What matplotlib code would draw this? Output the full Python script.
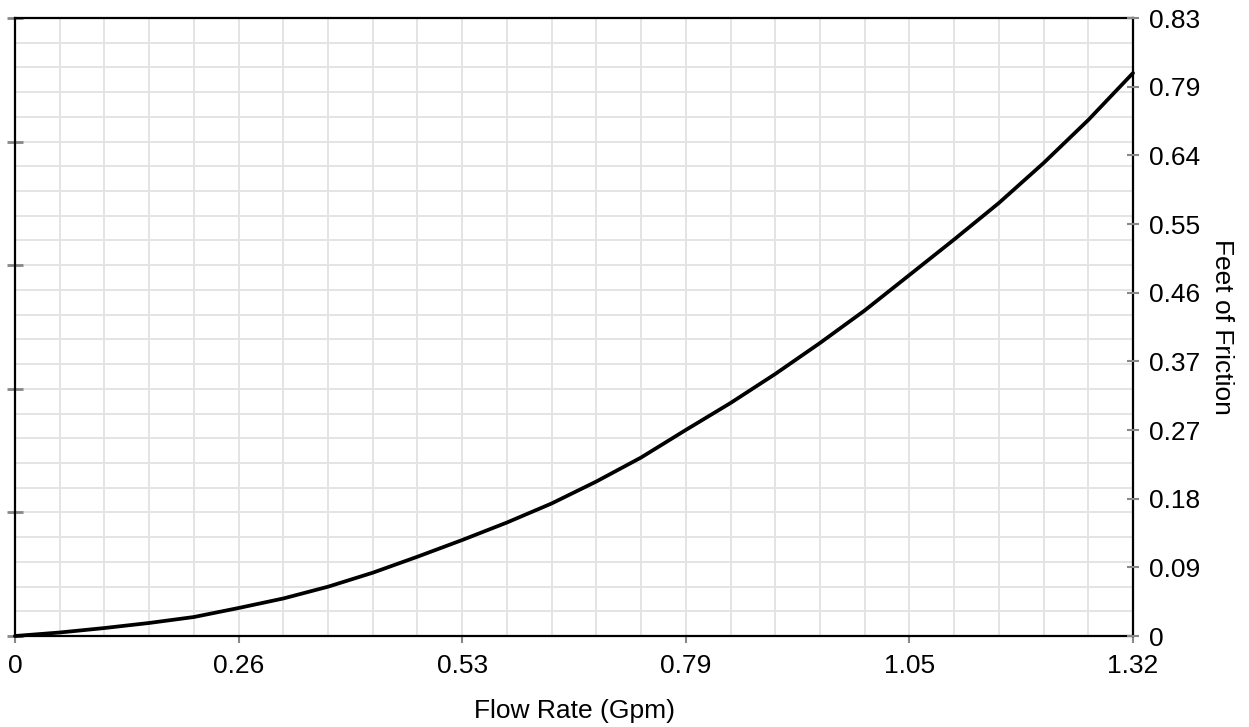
import numpy as np
import matplotlib
matplotlib.use("Agg")
import matplotlib.pyplot as plt

plt.rcParams['font.family'] = ['Liberation Sans', 'DejaVu Sans']

# Data
flow_rate = [0.0, 0.0528, 0.1056, 0.1584, 0.2112, 0.264, 0.3168, 0.3696, 0.4224,
             0.4752, 0.528, 0.5808, 0.6336, 0.6864, 0.7392, 0.792, 0.8448, 0.8976,
             0.9504, 1.0032, 1.056, 1.1088, 1.1616, 1.2144, 1.2672, 1.32]
friction = [0.0, 0.0047, 0.0107, 0.0175, 0.0255, 0.0376, 0.0504, 0.0662, 0.0850,
            0.1065, 0.1289, 0.1524, 0.1780, 0.2075, 0.2397, 0.2767, 0.3129, 0.3519,
            0.3935, 0.4372, 0.4848, 0.5325, 0.5815, 0.6352, 0.6930, 0.7561]

x_max = 1.32
y_max = 0.83
x_tick_labels = ["0", "0.26", "0.53", "0.79", "1.05", "1.32"]
y_tick_labels = ["0", "0.09", "0.18", "0.27", "0.37", "0.46", "0.55", "0.64", "0.79", "0.83"]

FS = 19

fig = plt.figure(figsize=(12.49, 7.27), dpi=100)
ax = fig.add_axes([15/1249, 91/727, 1118/1249, 618/727])

ax.set_xlim(0, x_max)
ax.set_ylim(0, y_max)

# grid
ax.set_xticks(np.linspace(0, x_max, 26), minor=True)
ax.set_yticks(np.linspace(0, y_max, 26), minor=True)
ax.grid(True, which='both', color='#e4e4e4', linewidth=1.4, zorder=0)
ax.set_axisbelow(True)

ax.set_xticks(np.linspace(0, x_max, len(x_tick_labels)))
ax.set_xticklabels(x_tick_labels, fontsize=FS)
ax.set_yticks(np.linspace(0, y_max, 6))
ax.set_yticklabels([])
ax.tick_params(which='minor', length=0)
ax.tick_params(axis='x', which='major', direction='out', length=5, width=1.5,
               color='#888888', pad=8)
ax.tick_params(axis='y', which='major', direction='inout', length=11, width=2,
               color='#888888')

ax.plot(flow_rate, friction, color='black', linewidth=2.7, zorder=3,
        solid_capstyle='round', solid_joinstyle='round', clip_on=False)

for s in ax.spines.values():
    s.set_color('black')
    s.set_linewidth(1.6)
    s.set_zorder(4)

ax2 = ax.twinx()
ax2.set_ylim(0, y_max)
ax2.set_yticks(np.linspace(0, y_max, len(y_tick_labels)))
ax2.set_yticklabels(y_tick_labels, fontsize=FS)
ax2.tick_params(axis='y', direction='inout', length=9, width=1.5, color='#888888', pad=7)
for s in ax2.spines.values():
    s.set_visible(False)

ax2.set_ylabel("Feet of Friction", fontsize=FS, rotation=-90, labelpad=24)
ax.set_xlabel("Flow Rate (Gpm)", fontsize=FS, labelpad=15)

fig.savefig("out.png", dpi=100)
